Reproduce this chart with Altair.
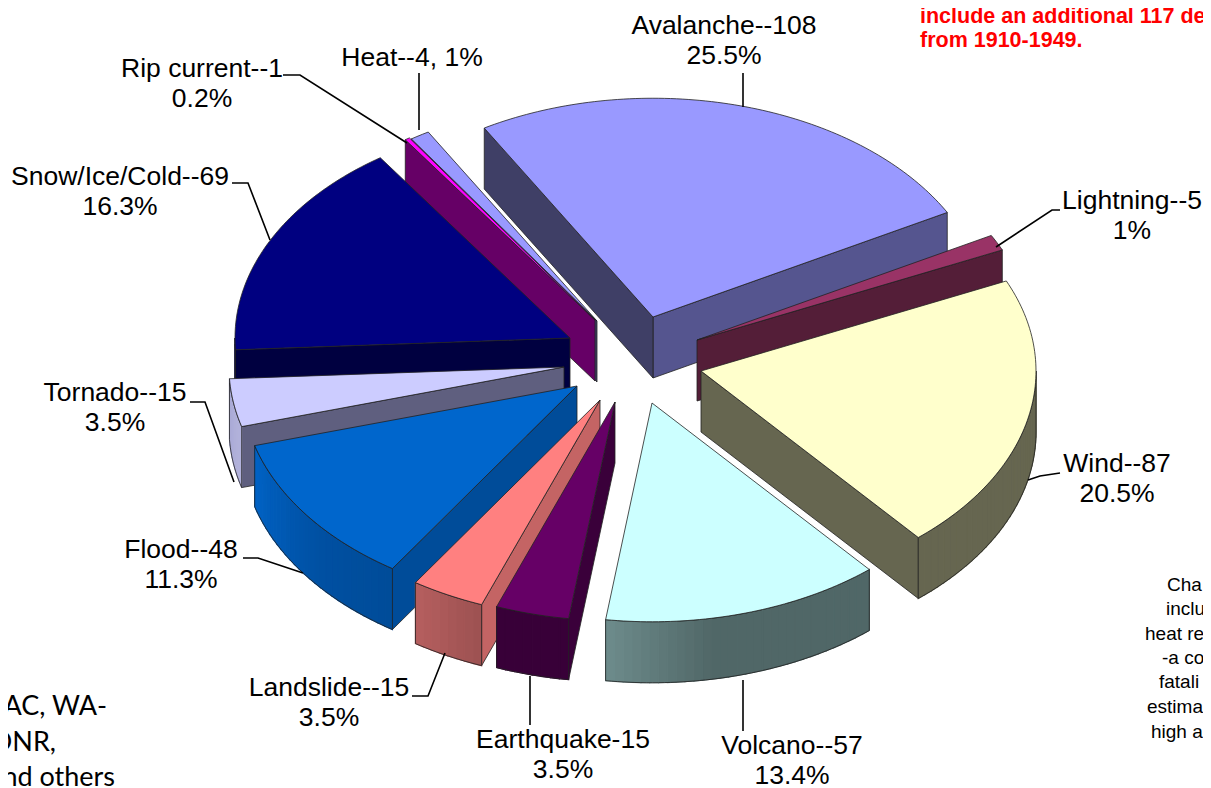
import math
import altair as alt

# --- data ---------------------------------------------------------------
categories = ["Avalanche", "Lightning", "Wind", "Volcano", "Earthquake", "Landslide",
              "Flood", "Tornado", "Snow/Ice/Cold", "Rip current", "Heat"]
fatalities = [108, 5, 87, 57, 15, 15, 48, 15, 69, 1, 4]
line1 = ["Avalanche--108", "Lightning--5", "Wind--87", "Volcano--57", "Earthquake-15", "Landslide--15",
         "Flood--48", "Tornado--15", "Snow/Ice/Cold--69", "Rip current--1", "Heat--4, 1%"]
line2 = ["25.5%", "1%", "20.5%", "13.4%", "3.5%", "3.5%", "11.3%", "3.5%", "16.3%", "0.2%", ""]

# --- styling / layout ----------------------------------------------------
START = -30.25; R = 335.0; K = 0.653; DEPTH = 61.0
apex = {"Avalanche": (653, 317), "Lightning": (697, 340), "Wind": (701, 371), "Volcano": (652, 403),
        "Earthquake": (615, 402), "Landslide": (600, 400), "Flood": (577, 386), "Tornado": (564, 367),
        "Snow/Ice/Cold": (570, 338), "Rip current": (595, 320), "Heat": (597, 321)}
top = {"Avalanche": "#9999FF", "Lightning": "#993366", "Wind": "#FFFFCC", "Volcano": "#CCFFFF",
       "Earthquake": "#660066", "Landslide": "#FF8080", "Flood": "#0066CC", "Tornado": "#CCCCFF",
       "Snow/Ice/Cold": "#000080", "Rip current": "#FF00FF", "Heat": "#9999FF"}
face1 = {"Avalanche": "#3F3F66", "Earthquake": "#3A003A", "Landslide": "#C46464", "Flood": "#004C99",
         "Tornado": "#5F5F7F", "Snow/Ice/Cold": "#000040", "Rip current": "#660066", "Heat": "#3F3F66"}
face2 = {"Avalanche": "#55558F", "Lightning": "#541E38", "Wind": "#666650", "Volcano": "#5F8080",
         "Earthquake": "#4A004A", "Landslide": "#C46464", "Flood": "#004C99", "Tornado": "#5F5F7F",
         "Snow/Ice/Cold": "#000040", "Rip current": "#660066", "Heat": "#3F3F66"}
# rim shading stops: (fraction along the visible rim, r, g, b)
rim = {"Wind": [(0, 0x66, 0x66, 0x50), (1, 0x66, 0x66, 0x50)],
       "Volcano": [(0, 0x50, 0x67, 0x67), (0.62, 0x50, 0x67, 0x67), (1, 0x6C, 0x8A, 0x8A)],
       "Earthquake": [(0, 0x38, 0x00, 0x38), (1, 0x38, 0x00, 0x38)],
       "Landslide": [(0, 0x9E, 0x52, 0x52), (1, 0xB4, 0x5E, 0x5E)],
       "Flood": [(0, 0x00, 0x4C, 0x99), (0.4, 0x00, 0x50, 0xA2), (1, 0x00, 0x62, 0xC4)],
       "Tornado": [(0, 0xB2, 0xB2, 0xDC), (1, 0xAA, 0xAA, 0xD6)],
       "Snow/Ice/Cold": [(0, 0, 0, 0x40), (1, 0, 0, 0x40)]}
draw_order = ["Heat", "Rip current", "Avalanche", "Lightning", "Snow/Ice/Cold", "Tornado", "Flood",
              "Wind", "Landslide", "Earthquake", "Volcano"]
label_at = {"Avalanche": (724, 26), "Lightning": (1132, 201), "Wind": (1117, 464), "Volcano": (792, 746),
            "Earthquake": (563, 740), "Landslide": (329, 688), "Flood": (181, 550), "Tornado": (115, 393),
            "Snow/Ice/Cold": (120, 177), "Rip current": (202, 69), "Heat": (412, 58)}
leaders = {"Avalanche": [(743, 107), (743, 73)], "Heat": [(419, 130), (419, 73)],
           "Rip current": [(283, 75), (300, 75), (407, 143)], "Lightning": [(1060, 210), (1052, 210), (996, 247)],
           "Wind": [(1060, 473), (1040, 476), (1028, 480)], "Volcano": [(743, 680), (743, 731)],
           "Earthquake": [(530, 676), (530, 725)], "Landslide": [(445, 653), (428, 696), (412, 696)],
           "Flood": [(303, 573), (258, 558), (243, 558)], "Tornado": [(190, 402), (205, 402), (234, 482)],
           "Snow/Ice/Cold": [(232, 183), (248, 183), (270, 240)]}
notes = [("NWS, U of W etc.", 142, -3, "right", 18, "Liberation Sans", "normal", "#000000"),
         ("include an additional 117 dea", 920, 17, "left", 21.5, "Liberation Sans", "bold", "#FF0000"),
         ("from 1910-1949.", 920, 41, "left", 21.5, "Liberation Sans", "bold", "#FF0000"),
         ("Cha", 1167, 585, "left", 19, "Liberation Sans", "normal", "#000000"),
         ("inclu", 1166, 609, "left", 19, "Liberation Sans", "normal", "#000000"),
         ("heat re", 1145, 634, "left", 19, "Liberation Sans", "normal", "#000000"),
         ("-a co", 1162, 658, "left", 19, "Liberation Sans", "normal", "#000000"),
         ("fatali", 1159, 682, "left", 19, "Liberation Sans", "normal", "#000000"),
         ("estima", 1147, 707, "left", 19, "Liberation Sans", "normal", "#000000"),
         ("high a", 1151, 732, "left", 19, "Liberation Sans", "normal", "#000000"),
         ("WAC, WA-", 107, 707, "right", 27, "Lato", "normal", "#000000"),
         ("DNR,", 56, 743, "right", 27, "Lato", "normal", "#000000"),
         ("and others", 115, 778, "right", 27, "Lato", "normal", "#000000")]

OUT = "#222222"

# --- geometry derived from the values -------------------------------------
total = sum(fatalities)
spans, a = {}, START
for c, v in zip(categories, fatalities):
    spans[c] = (a, a + v / total * 360.0)
    a = spans[c][1]


def rim_pt(name, deg, dz=0.0):
    ax, ay = apex[name]
    t = math.radians(deg)
    return [ax + R * math.sin(t), ay - R * K * math.cos(t) + dz]


def arc(name, a0, a1, dz=0.0, step=1.0):
    n = max(1, int(abs(a1 - a0) / step))
    return [rim_pt(name, a0 + (a1 - a0) * i / n, dz) for i in range(n + 1)]


def feat(ring, fill, stroke, sw):
    ring = [list(p) for p in ring]
    ring.append(ring[0])
    return {"type": "Feature", "geometry": {"type": "Polygon", "coordinates": [ring]},
            "properties": {"fill": fill, "stroke": stroke, "sw": sw}}


def shade(stops, f):
    for (f0, *c0), (f1, *c1) in zip(stops, stops[1:]):
        if f <= f1:
            u = (f - f0) / (f1 - f0)
            return "#%02X%02X%02X" % tuple(int(round(c0[j] + (c1[j] - c0[j]) * u)) for j in range(3))
    return "#%02X%02X%02X" % tuple(stops[-1][1:])


shapes = []
for name in draw_order:
    a0, a1 = spans[name]
    ax, ay = apex[name]
    s0, s1 = math.sin(math.radians(a0)), math.sin(math.radians(a1))
    # radial faces
    if s1 > 0 and name in face2:
        p = rim_pt(name, a1)
        shapes.append(feat([[ax, ay], p, [p[0], p[1] + DEPTH], [ax, ay + DEPTH]], face2[name], OUT, 0.8))
    if s0 < 0 and name in face1:
        p = rim_pt(name, a0)
        shapes.append(feat([[ax, ay], p, [p[0], p[1] + DEPTH], [ax, ay + DEPTH]], face1[name], OUT, 0.8))
    # outer rim, lower half of the ellipse only
    lo, hi = max(a0, 90.0), min(a1, 270.0)
    if hi > lo and name in rim:
        n = max(1, int((hi - lo) / 1.5))
        for i in range(n):
            u0, u1 = lo + (hi - lo) * i / n, lo + (hi - lo) * (i + 1) / n
            col = shade(rim[name], i / max(1, n - 1))
            ring = arc(name, u0, u1) + arc(name, u1, u0, DEPTH)
            shapes.append(feat(ring, col, col, 1.2))
        shapes.append(feat(arc(name, lo, hi) + arc(name, hi, lo, DEPTH), "none", OUT, 0.8))
    # top surface
    shapes.append(feat([[ax, ay]] + arc(name, a0, a1), top[name], OUT, 0.8))

W, H = 1195, 780
pie = alt.Chart(alt.InlineData(values={"type": "FeatureCollection", "features": shapes},
                               format=alt.DataFormat(property="features", type="json"))).mark_geoshape().encode(
    fill=alt.Fill("properties.fill:N", scale=None, legend=None),
    stroke=alt.Stroke("properties.stroke:N", scale=None, legend=None),
    strokeWidth=alt.StrokeWidth("properties.sw:Q", scale=None, legend=None),
).project(type="identity", scale=1, translate=[-8, -8])

xs = alt.Scale(domain=[8, 8 + W], range=[0, W], nice=False, zero=False)
ys = alt.Scale(domain=[8, 8 + H], range=[0, H], nice=False, zero=False)

leader_rows = []
for k, pts in leaders.items():
    for i, (x, y) in enumerate(pts):
        leader_rows.append({"k": k, "i": i, "x": x, "y": y})
leader_layer = alt.Chart(alt.Data(values=leader_rows)).mark_line(color="#000000", strokeWidth=1.6).encode(
    x=alt.X("x:Q", scale=xs, axis=None), y=alt.Y("y:Q", scale=ys, axis=None),
    detail="k:N", order="i:Q")

label_rows = []
for c, a1_, b1_ in zip(categories, line1, line2):
    lx, ly = label_at[c]
    label_rows.append({"t": a1_, "x": lx, "y": ly})
    if b1_:
        label_rows.append({"t": b1_, "x": lx, "y": ly + 30})
label_layer = alt.Chart(alt.Data(values=label_rows)).mark_text(
    font="Liberation Sans", fontSize=26.5, color="#000000", align="center", baseline="middle").encode(
    x=alt.X("x:Q", scale=xs, axis=None), y=alt.Y("y:Q", scale=ys, axis=None), text="t:N")

note_layers = []
for t, x, y, al, fs, fam, wt, col in notes:
    note_layers.append(alt.Chart(alt.Data(values=[{"t": t, "x": x, "y": y}])).mark_text(
        font=fam, fontSize=fs, fontWeight=wt, color=col, align=al, baseline="middle").encode(
        x=alt.X("x:Q", scale=xs, axis=None), y=alt.Y("y:Q", scale=ys, axis=None), text="t:N"))

chart = alt.layer(pie, leader_layer, label_layer, *note_layers).properties(
    width=W, height=H, padding=0, autosize=alt.AutoSizeParams(type="none")
).configure_view(stroke=None)

chart.save("out.html", embed_options={"renderer": "svg", "actions": False})
